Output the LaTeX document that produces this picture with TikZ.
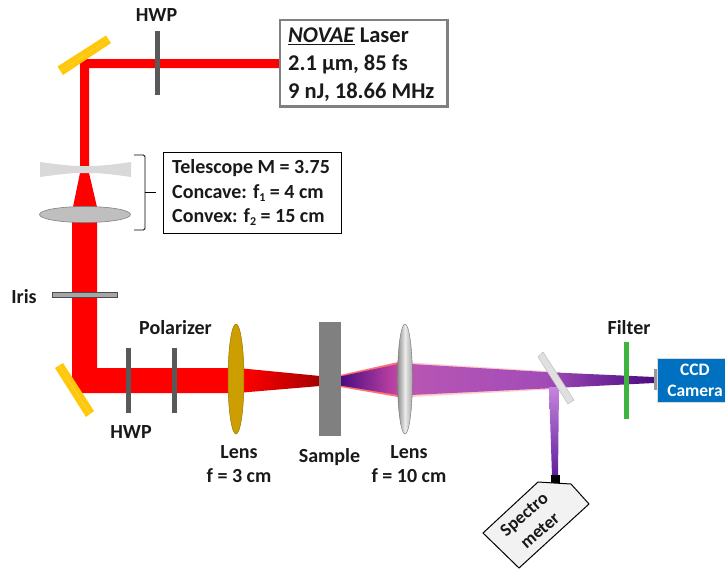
\documentclass[tikz,border=0pt]{standalone}
\usepackage{fontspec}
\setmainfont{Carlito}
\usetikzlibrary{calc}
\tikzset{
  lbl/.style={font=\fontsize{20}{22}\selectfont\bfseries, text=black!90, inner sep=0pt, align=center},
  ccdtxt/.style={font=\fontsize{17.5}{20}\selectfont\bfseries, text=white, inner sep=0pt, align=center},
  boxtxt/.style={font=\fontsize{20}{22}\selectfont\bfseries, text=black!90, inner sep=0pt, anchor=west},
  lasertxt/.style={font=\fontsize{22.5}{25}\selectfont\bfseries, text=black!90, inner sep=0pt, anchor=west},
  spectxt/.style={font=\fontsize{18}{20}\selectfont\bfseries, text=black!90, inner sep=0pt, rotate=41},
  plate/.style={fill=plategray, draw=none},
  goldplate/.style={fill=mirrorgold, draw=none},
  hl/.style={draw=mirrorlight, line width=0.4pt},
}
\newcommand{\subnum}[1]{\raisebox{-0.12em}{\fontsize{12}{12}\selectfont #1}}
\definecolor{plategray}{HTML}{595959}
\definecolor{mirrorgold}{HTML}{FFC80A}
\definecolor{mirrorlight}{HTML}{FFD850}
\definecolor{lensgold}{HTML}{CC9E00}
\definecolor{beamred}{HTML}{FF0000}
\definecolor{darkred}{HTML}{A80000}
\definecolor{dpurple}{HTML}{4A0C80}
\definecolor{magenta1}{HTML}{C645A6}
\definecolor{magenta2}{HTML}{B855B4}
\definecolor{midpurple}{HTML}{A24CB8}
\definecolor{lilac}{HTML}{C685DE}
\definecolor{deeppurple}{HTML}{5F1E9C}
\definecolor{ccdblue}{HTML}{0070C0}
\definecolor{filtergreen}{HTML}{3DB43D}
\begin{document}
\begin{tikzpicture}[x=1pt,y=-1pt]
\useasboundingbox (0,0) rectangle (725,568);
\clip (0,0) rectangle (725,568);
% upper beam
\fill[beamred] (280,59) -- (80,59) -- (80,166) -- (89,166) -- (89,68) -- (280,68) -- cycle;
% top HWP
\fill[plate] (155,31) rectangle (160,95);
% top mirror
\fill[goldplate] (57.5,66.5) -- (106,35.5) -- (111,43) -- (63,75) -- cycle;
\draw[hl] (60.5,71) -- (108.5,39.5);
% telescope concave lens and beam
\fill[beamred] (80,173) -- (89,173) -- (97,207) -- (73,207) -- cycle;
\fill[black!15] (40,162) .. controls (62,165) and (72,166) .. (80,166) -- (89,166) .. controls (100,166) and (110,165) .. (131,162)
  -- (131,177) .. controls (110,174) and (100,173) .. (89,173) -- (80,173) .. controls (72,173) and (62,174) .. (40,177) -- cycle;
% wide beam and lower path
\fill[beamred] (72,215) -- (97,215) -- (97,368) -- (231,368) -- (231,393) -- (80,393) -- (72,378) -- cycle;
\fill[black!25, draw=black!50, line width=0.6pt] (85,214.5) ellipse [x radius=45.5, y radius=8];
% iris
\fill[black!35, draw=black!70, line width=0.8pt] (52.5,292.5) rectangle (117,297.5);
% lower mirror
\fill[goldplate] (55,368) -- (63,363) -- (94,411) -- (86,417) -- cycle;
\draw[hl] (59,365.5) -- (90,414);
% lower HWP and polarizer
\fill[plate] (126,348) rectangle (131,413);
\fill[plate] (172,348) rectangle (177,413);
% focusing cone
\shade[left color=beamred, right color=darkred] (243,368.5) -- (320,376) -- (320,386) -- (243,392.5) -- cycle;
% lens 1
\fill[lensgold, draw=lensgold!75!black, line width=0.5pt] (236,379) ellipse [x radius=8, y radius=55];
% beam after sample
\fill[red!55!white] (340,375) -- (398,362) -- (398,397) -- (340,387) -- cycle;
\shade[left color=dpurple, right color=magenta1] (340,376.5) -- (398,364) -- (398,395) -- (340,385.5) -- cycle;
\fill[red!20!white] (411,362.5) -- (560,372) -- (560,389) -- (411,397) -- cycle;
\shade[left color=magenta2, right color=midpurple] (411,364) -- (545,372) -- (545,388.5) -- (411,395) -- cycle;
\shade[left color=midpurple, right color=dpurple] (544.6,372) -- (654,377) -- (654,383) -- (544.6,388.5) -- cycle;
% sample
\fill[black!50] (319,322) rectangle (341,436);
% lens 2
\shade[left color=black!45, right color=black!35, middle color=black!8, draw=black!55, line width=0.4pt] (405,379) ellipse [x radius=7.5, y radius=55];
% branch beam
\shade[top color=lilac, bottom color=deeppurple] (549,387) -- (559,387) -- (558,476) -- (552,476) -- cycle;
% beam splitter
\fill[black!12, draw=black!25, line width=0.5pt] (538,357) -- (543,352) -- (574,400) -- (568,404) -- cycle;
% spectrometer
\fill[black] (551,475) rectangle (560,484);
\draw[black, fill=black!5, line width=1pt, line join=miter] (538,482) -- (571,484) -- (589,504) -- (519,568) -- (483,533) -- cycle;
\node[spectxt] (spectro) at (525,515) {Spectro};
\node[spectxt] (meter) at (540,530.5) {meter};
% filter
\fill[filtergreen] (624,342) rectangle (629,419);
% CCD
\fill[black!40] (654,369) rectangle (658,390);
\fill[fill=ccdblue, draw=black!15, line width=1pt] (657.5,358.5) rectangle (726,402);
\node[ccdtxt] (ccd) at (695,370) {CCD};
\node[ccdtxt] (camera) at (695,391) {Camera};
% laser box
\draw[black!50, line width=2.5pt, fill=white] (280,20) rectangle (447.5,106.5);
\node[lasertxt] (l1) at (288,36) {\underline{\textit{NOVAE}} Laser};
\node[lasertxt] (l2) at (288,64) {2.1 µm, 85 fs};
\node[lasertxt] (l3) at (288,92) {9 nJ, 18.66 MHz};
% telescope box
\draw[black, line width=0.8pt] (163.5,152) rectangle (341.5,233);
\node[boxtxt] (t1) at (172,168) {Telescope M = 3.75};
\node[boxtxt] (t2) at (172,193) {Concave: f\subnum{1} = 4 cm};
\node[boxtxt] (t3) at (172,217) {Convex: f\subnum{2} = 15 cm};
\draw[black, line width=0.8pt, rounded corners=1.5pt] (134,155) -- (145,155) -- (145,230) -- (134,230);
\draw[black, line width=0.8pt] (145,192.5) -- (156,192.5);
% labels
\node[lbl] (hwpa) at (156.5,15) {HWP};
\node[lbl] (iris) at (24,297) {Iris};
\node[lbl] (pol) at (175.5,328) {Polarizer};
\node[lbl] (hwpb) at (131,432) {HWP};
\node[lbl] (lensa) at (239,452) {Lens};
\node[lbl] (fa) at (239,476) {f = 3 cm};
\node[lbl] (sample) at (329.5,457) {Sample};
\node[lbl] (lensb) at (409,452) {Lens};
\node[lbl] (fb) at (409,476) {f = 10 cm};
\node[lbl] (filter) at (629,328) {Filter};
\end{tikzpicture}
\end{document}
